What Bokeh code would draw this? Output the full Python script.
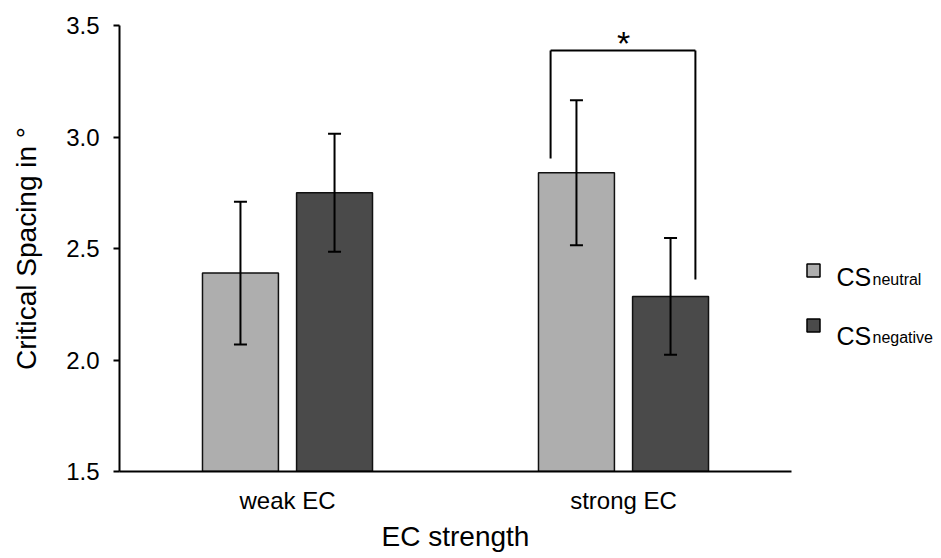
from bokeh.plotting import figure
from bokeh.models import (ColumnDataSource, FactorRange, Range1d, FixedTicker,
                          PrintfTickFormatter, Whisker, TeeHead)
from bokeh.transform import dodge
from bokeh.layouts import row
from bokeh.core.properties import value
from bokeh.embed import file_html
from bokeh.resources import INLINE

# ---- data ----
categories = ["weak EC", "strong EC"]
neutral_means = [2.39, 2.84]
neutral_err = [0.32, 0.325]
negative_means = [2.75, 2.285]
negative_err = [0.265, 0.262]
y_ticks = [1.5, 2.0, 2.5, 3.0, 3.5]
series_names = ["neutral", "negative"]
series_colors = ["#AEAEAE", "#4A4A4A"]

# significance bracket (strong EC: neutral vs negative)
sig_category = "strong EC"
sig_top = 3.388
sig_left_bottom = 2.904
sig_right_bottom = 2.361
sig_label_y = 3.42

FONT = "Liberation Sans"
H = 556
TOP = 25
BOTTOM = 85

src_neu = ColumnDataSource(dict(
    cat=categories, top=neutral_means,
    upper=[m + e for m, e in zip(neutral_means, neutral_err)],
    lower=[m - e for m, e in zip(neutral_means, neutral_err)]))
src_neg = ColumnDataSource(dict(
    cat=categories, top=negative_means,
    upper=[m + e for m, e in zip(negative_means, negative_err)],
    lower=[m - e for m, e in zip(negative_means, negative_err)]))

p = figure(x_range=FactorRange(factors=categories, range_padding=0),
           y_range=Range1d(y_ticks[0], y_ticks[-1]),
           width=801, height=H, output_backend="svg", toolbar_location=None,
           min_border_left=119, min_border_right=10, min_border_top=TOP,
           min_border_bottom=BOTTOM)
p.outline_line_color = None
p.xgrid.grid_line_color = None
p.ygrid.grid_line_color = None

offset = 0.14
bar_w = 0.226
for src, off, col in [(src_neu, -offset, series_colors[0]), (src_neg, offset, series_colors[1])]:
    xd = dodge("cat", off, range=p.x_range)
    p.vbar(x=xd, top="top", bottom=y_ticks[0], width=bar_w, source=src,
           fill_color=col, line_color="#111111", line_width=1.5)
    w = Whisker(source=src, base=xd, upper="upper", lower="lower",
                line_color="black", line_width=2, level="annotation",
                upper_head=TeeHead(size=13, line_width=2, line_color="black"),
                lower_head=TeeHead(size=13, line_width=2, line_color="black"))
    p.add_layout(w)

# bracket
br = ColumnDataSource(dict(cat=[sig_category]))
xl = dodge("cat", -0.217, range=p.x_range)
xr = dodge("cat", 0.214, range=p.x_range)
p.segment(x0=xl, y0=sig_left_bottom, x1=xl, y1=sig_top, source=br, line_color="black", line_width=2)
p.segment(x0=xl, y0=sig_top, x1=xr, y1=sig_top, source=br, line_color="black", line_width=2)
p.segment(x0=xr, y0=sig_top, x1=xr, y1=sig_right_bottom, source=br, line_color="black", line_width=2)
p.text(x=dodge("cat", 0, range=p.x_range), y=sig_label_y, text=value("*"), source=br,
       text_font=value(FONT), text_font_size="34px", text_align="center",
       text_baseline="alphabetic", text_color="black")

# axes
p.yaxis.ticker = FixedTicker(ticks=y_ticks)
p.yaxis.formatter = PrintfTickFormatter(format="%.1f")
p.yaxis.minor_tick_line_color = None
p.yaxis.major_tick_out = 6
p.yaxis.major_tick_in = 0
p.yaxis.major_tick_line_width = 2
p.yaxis.axis_line_width = 2
p.yaxis.major_label_standoff = 14
p.yaxis.axis_label = "Critical Spacing in °"
p.yaxis.axis_label_standoff = 21

p.xaxis.major_tick_line_color = None
p.xaxis.major_tick_out = 0
p.xaxis.minor_tick_line_color = None
p.xaxis.axis_line_width = 2
p.xaxis.major_label_standoff = 15
p.xaxis.axis_label = "EC strength"
p.xaxis.axis_label_standoff = 4

for ax in (p.xaxis[0], p.yaxis[0]):
    ax.axis_line_color = "black"
    ax.major_label_text_font = FONT
    ax.major_label_text_font_size = "24px"
    ax.major_label_text_color = "black"
    ax.axis_label_text_font = FONT
    ax.axis_label_text_font_size = "28px"
    ax.axis_label_text_font_style = "normal"
    ax.axis_label_text_color = "black"
p.yaxis.major_tick_line_color = "black"

# ---- legend panel (frame aligned with the main frame; units = pixels above frame bottom) ----
lg = figure(x_range=Range1d(0, 138), y_range=Range1d(0, H - TOP - BOTTOM), width=138, height=H,
            output_backend="svg", toolbar_location=None, x_axis_type=None, y_axis_type=None,
            min_border_left=0, min_border_right=0, min_border_top=TOP, min_border_bottom=BOTTOM)
lg.outline_line_color = None
lg.xgrid.grid_line_color = None
lg.ygrid.grid_line_color = None

leg_src = ColumnDataSource(dict(
    sx=[12, 12], sy=[201, 146], color=series_colors,
    cs_x=[35, 35], cs_y=[195, 136], cs=["CS", "CS"],
    sub_x=[71, 71], sub_y=[192.5, 134.5], sub=series_names))
lg.scatter(x="sx", y="sy", marker="square", size=13, fill_color="color",
           line_color="black", line_width=1.5, source=leg_src)
lg.text(x="cs_x", y="cs_y", text="cs", source=leg_src, text_font=value(FONT),
        text_font_size="25px", text_baseline="alphabetic", text_color="black")
lg.text(x="sub_x", y="sub_y", text="sub", source=leg_src, text_font=value(FONT),
        text_font_size="16px", text_baseline="alphabetic", text_color="black")

layout = row(p, lg)
open("out.html", "w").write(file_html(layout, INLINE))
